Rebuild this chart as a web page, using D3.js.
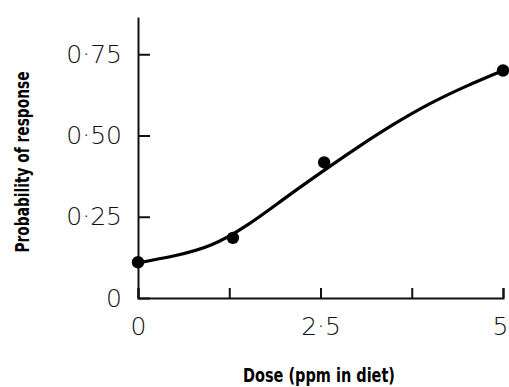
<!DOCTYPE html>
<html>
<head>
<meta charset="utf-8">
<script src="https://cdn.jsdelivr.net/npm/d3@7"></script>
<style>
  html, body { margin: 0; padding: 0; background: #fff; }
  svg { display: block; }
</style>
</head>
<body>
<script>
// Observed response proportions at each dose
const doses = [0, 1.3, 2.55, 5];
const responses = [0.11, 0.185, 0.417, 0.70];

// Fitted dose-response curve
const curveDoses = [0, 0.5, 1, 1.5, 2, 2.5, 3, 3.5, 4, 4.5, 5];
const curveProbs = [0.108, 0.13, 0.163, 0.225, 0.305, 0.385, 0.462, 0.534, 0.598, 0.652, 0.70];

// Axis ticks and labels
const xTicks = [0, 1.25, 2.5, 3.75, 5];
const xTickLabels = ["0", "", "2·5", "", "5"];
const yTicks = [0, 0.25, 0.5, 0.75];
const yTickLabels = ["0", "0·25", "0·50", "0·75"];

const W = 509, H = 387;
const svg = d3.select("body").append("svg").attr("width", W).attr("height", H);

const x = d3.scaleLinear().domain([0, 5]).range([138, 503]);
const y = d3.scaleLinear().domain([0, 0.8646]).range([298, 17]);

const tickFont = "'DejaVu Sans', sans-serif";
const titleFont = "'Liberation Sans Narrow', 'DejaVu Sans Condensed', sans-serif";

// y axis: ticks point inward
const yAxis = d3.axisLeft(y)
  .tickValues(yTicks)
  .tickFormat((d, i) => yTickLabels[i])
  .tickSizeInner(-12)
  .tickSizeOuter(0)
  .tickPadding(16);

const gy = svg.append("g").attr("transform", `translate(${x(0)},0)`).call(yAxis);

// x axis: ticks point upward
const xAxis = d3.axisBottom(x)
  .tickValues(xTicks)
  .tickFormat((d, i) => xTickLabels[i])
  .tickSizeInner(-10)
  .tickSizeOuter(-10)
  .tickPadding(19);

const gx = svg.append("g").attr("transform", `translate(0,${y(0)})`).call(xAxis);

[gx, gy].forEach(g => {
  g.selectAll("path.domain, line").attr("stroke", "#111").attr("stroke-width", 2);
  g.selectAll("text")
    .attr("font-family", tickFont)
    .attr("font-weight", 200)
    .attr("font-size", 25)
    .attr("fill", "#111");
});

// keep the last dose label inside the frame
gx.selectAll(".tick text").filter(d => d === 5).attr("dx", -3);

// fitted curve
const curveData = curveDoses.map((d, i) => [d, curveProbs[i]]);
svg.append("path")
  .datum(curveData)
  .attr("fill", "none")
  .attr("stroke", "#000")
  .attr("stroke-width", 3.2)
  .attr("stroke-linecap", "round")
  .attr("d", d3.line().x(d => x(d[0])).y(d => y(d[1])).curve(d3.curveNatural));

// observed points
svg.append("g")
  .selectAll("circle")
  .data(doses.map((d, i) => [d, responses[i]]))
  .join("circle")
  .attr("cx", d => x(d[0]))
  .attr("cy", d => y(d[1]))
  .attr("r", 6.2)
  .attr("fill", "#000");

// axis titles
svg.append("text")
  .attr("x", 319)
  .attr("y", 382)
  .attr("text-anchor", "middle")
  .attr("font-family", titleFont)
  .attr("font-weight", "bold")
  .attr("font-size", 19)
  .attr("textLength", 152)
  .attr("lengthAdjust", "spacingAndGlyphs")
  .attr("fill", "#000")
  .text("Dose (ppm in diet)");

svg.append("text")
  .attr("transform", "translate(29,162) rotate(-90)")
  .attr("text-anchor", "middle")
  .attr("font-family", titleFont)
  .attr("font-weight", "bold")
  .attr("font-size", 19)
  .attr("textLength", 181)
  .attr("lengthAdjust", "spacingAndGlyphs")
  .attr("fill", "#000")
  .text("Probability of response");
</script>
</body>
</html>
